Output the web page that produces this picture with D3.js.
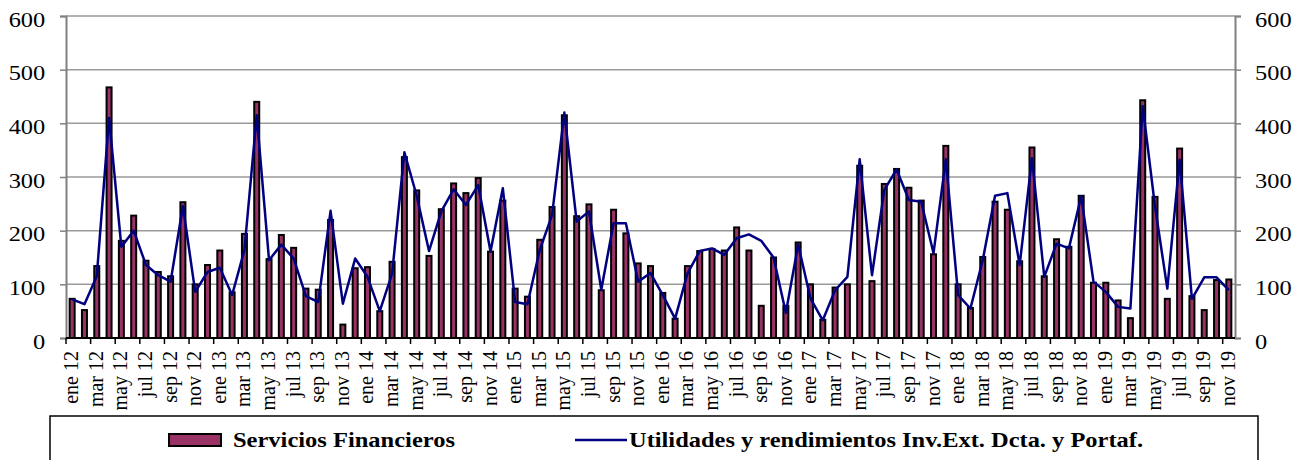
<!DOCTYPE html>
<html>
<head>
<meta charset="utf-8">
<script src="https://cdn.jsdelivr.net/npm/d3@7"></script>
<style>
  html, body { margin: 0; padding: 0; background: #fff; }
  svg { display: block; }
  svg text { font-family: 'Liberation Serif', Tinos, 'Times New Roman', Times, 'DejaVu Serif', serif !important; fill: #000; }
</style>
</head>
<body>
<svg id="chart" width="1303" height="460"></svg>
<script>
// Monthly categories, ene 12 .. nov 19
const monthNames = ["ene", "feb", "mar", "abr", "may", "jun", "jul", "ago", "sep", "oct", "nov", "dic"];
const months = [];
for (let y = 12; y <= 19; y++) {
  for (let m = 0; m < 12; m++) {
    if (y === 19 && m > 10) break;
    months.push(monthNames[m] + " " + y);
  }
}

// Servicios Financieros (bars)
const serviciosFinancieros = [
  73, 52, 134, 467, 181, 228, 144, 123, 115, 253, 100, 136,
  163, 85, 194, 440, 147, 192, 168, 92, 90, 220, 25, 130,
  132, 50, 142, 337, 275, 153, 240, 288, 270, 298, 161, 256,
  92, 77, 183, 244, 415, 227, 249, 89, 239, 195, 139, 134,
  84, 36, 134, 162, 166, 163, 206, 163, 60, 150, 60, 178,
  100, 34, 94, 100, 321, 106, 287, 315, 280, 256, 156, 358,
  100, 56, 151, 254, 239, 143, 355, 115, 184, 170, 265, 103,
  103, 70, 37, 443, 263, 73, 353, 78, 52, 108, 109
];

// Utilidades y rendimientos Inv.Ext. Dcta. y Portaf. (line)
const utilidades = [
  72, 63, 115, 410, 170, 200, 136, 117, 105, 246, 86, 123,
  131, 80, 164, 415, 145, 174, 148, 78, 67, 237, 64, 148,
  114, 50, 120, 346, 265, 162, 236, 277, 248, 285, 161, 279,
  67, 63, 164, 229, 420, 217, 236, 90, 214, 214, 105, 121,
  80, 36, 120, 162, 167, 155, 186, 193, 181, 150, 47, 174,
  74, 33, 89, 114, 333, 117, 276, 314, 257, 254, 158, 333,
  80, 55, 145, 265, 270, 136, 335, 114, 176, 167, 264, 105,
  86, 58, 55, 432, 245, 92, 332, 73, 113, 113, 89
];

const yTicks = [0, 100, 200, 300, 400, 500, 600];
const seriesNames = ["Servicios Financieros", "Utilidades y rendimientos Inv.Ext. Dcta. y Portaf."];

const serif = "'Liberation Serif', Tinos, 'Times New Roman', Times, serif";
const svg = d3.select("#chart").attr("font-family", serif);
const plot = { left: 66, right: 1235, top: 16, bottom: 338 };

const x = d3.scaleBand().domain(months).range([plot.left, plot.right]).paddingInner(0).paddingOuter(0);
const y = d3.scaleLinear().domain([0, 600]).range([plot.bottom, plot.top]);

// horizontal gridlines
svg.append("g")
  .selectAll("line")
  .data(yTicks.filter(d => d > 0))
  .join("line")
  .attr("x1", plot.left).attr("x2", plot.right)
  .attr("y1", d => y(d)).attr("y2", d => y(d))
  .attr("stroke", "#9a9a9a").attr("stroke-width", 1.5);

// bars
const barW = 5;
svg.append("g")
  .selectAll("rect")
  .data(serviciosFinancieros)
  .join("rect")
  .attr("x", (d, i) => x(months[i]) + x.bandwidth() / 2 - barW / 2)
  .attr("y", d => y(d))
  .attr("width", barW)
  .attr("height", d => y(0) - y(d))
  .attr("fill", "#993366")
  .attr("stroke", "#000")
  .attr("stroke-width", 2);

// line series
const line = d3.line()
  .x((d, i) => x(months[i]) + x.bandwidth() / 2)
  .y(d => y(d));
svg.append("path")
  .datum(utilidades)
  .attr("d", line)
  .attr("fill", "none")
  .attr("stroke", "#000080")
  .attr("stroke-width", 2.5)
  .attr("stroke-linejoin", "round");

// left axis
const leftAxis = svg.append("g")
  .attr("transform", `translate(${plot.left},0)`)
  .call(d3.axisLeft(y).tickValues(yTicks).tickSize(6).tickPadding(0).tickFormat(d3.format("d")))
  .attr("font-family", serif);
leftAxis.select(".domain").attr("stroke", "#808080").attr("stroke-width", 2);
leftAxis.selectAll(".tick line").attr("stroke", "#808080").attr("stroke-width", 1.5);
leftAxis.selectAll(".tick text")
  .attr("font-size", 20)
  .attr("dy", "0.5em")
  .attr("text-anchor", "end")
  .attr("transform", "scale(1.22,1)")
  .attr("x", -17);

// right axis
const rightAxis = svg.append("g")
  .attr("transform", `translate(${plot.right},0)`)
  .call(d3.axisRight(y).tickValues(yTicks).tickSize(6).tickPadding(0).tickFormat(d3.format("d")))
  .attr("font-family", serif);
rightAxis.select(".domain").attr("stroke", "#808080").attr("stroke-width", 2);
rightAxis.selectAll(".tick line").attr("stroke", "#808080").attr("stroke-width", 1.5);
rightAxis.selectAll(".tick text")
  .attr("font-size", 20)
  .attr("dy", "0.5em")
  .attr("text-anchor", "start")
  .attr("transform", "scale(1.22,1)")
  .attr("x", 16.5);

// bottom axis: ticks every two months, on the category boundaries
const tickBounds = months.map((m, i) => i).filter(i => i % 2 === 0);
const bottom = svg.append("g");
bottom.append("line")
  .attr("x1", plot.left).attr("x2", plot.right)
  .attr("y1", y(0)).attr("y2", y(0))
  .attr("stroke", "#000").attr("stroke-width", 2);
bottom.selectAll("line.tick")
  .data(tickBounds)
  .join("line")
  .attr("class", "tick")
  .attr("x1", i => x(months[i])).attr("x2", i => x(months[i]))
  .attr("y1", y(0)).attr("y2", y(0) + 6)
  .attr("stroke", "#000").attr("stroke-width", 1.5);
bottom.selectAll("text")
  .data(tickBounds)
  .join("text")
  .attr("transform", i => `translate(${x(months[i]) + x.bandwidth() / 2 + 6},${y(0) + 13}) rotate(-90)`)
  .attr("text-anchor", "end")
  .attr("font-size", 20)
  .text(i => months[i]);

// legend
const legend = svg.append("g");
legend.append("rect")
  .attr("x", 50).attr("y", 416).attr("width", 1208).attr("height", 60)
  .attr("fill", "#fff").attr("stroke", "#000").attr("stroke-width", 1.5);
legend.append("rect")
  .attr("x", 169).attr("y", 434).attr("width", 52).attr("height", 12)
  .attr("fill", "#993366").attr("stroke", "#000").attr("stroke-width", 2);
legend.append("text")
  .attr("x", 233).attr("y", 447)
  .attr("font-size", 22).attr("font-weight", "bold")
  .attr("textLength", 222).attr("lengthAdjust", "spacingAndGlyphs")
  .text(seriesNames[0]);
legend.append("line")
  .attr("x1", 575).attr("x2", 627).attr("y1", 440).attr("y2", 440)
  .attr("stroke", "#000080").attr("stroke-width", 2.5);
legend.append("text")
  .attr("x", 629).attr("y", 447)
  .attr("font-size", 22).attr("font-weight", "bold")
  .attr("textLength", 514).attr("lengthAdjust", "spacingAndGlyphs")
  .text(seriesNames[1]);
</script>
</body>
</html>
